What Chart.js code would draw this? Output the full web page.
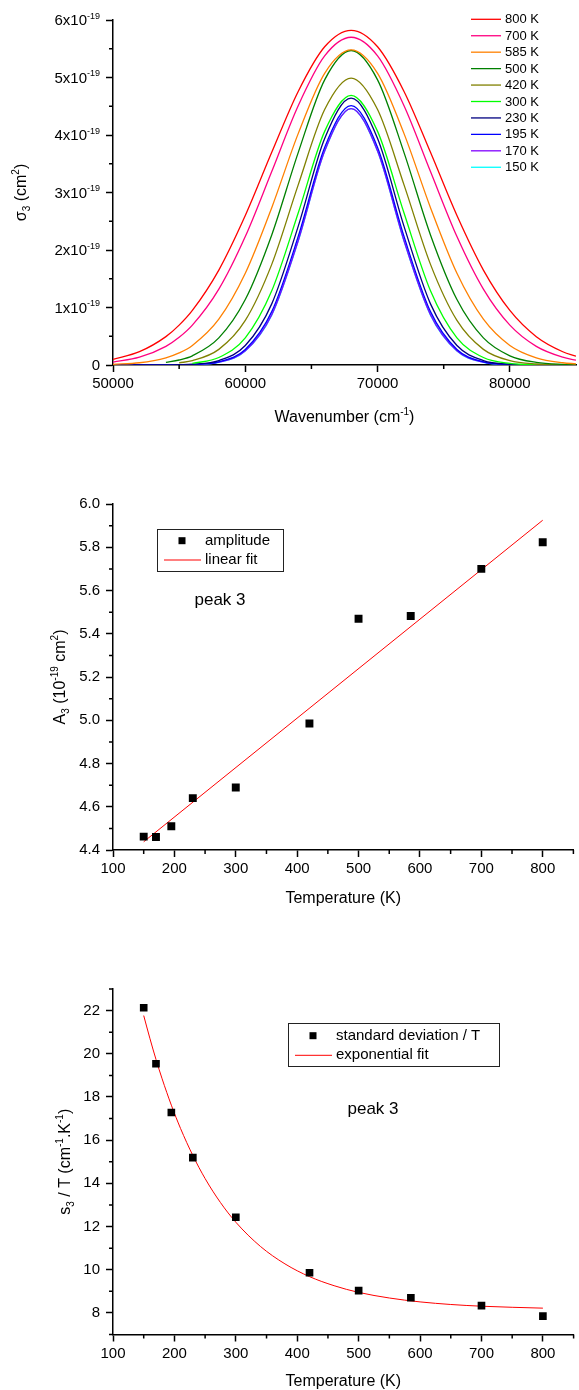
<!DOCTYPE html>
<html><head><meta charset="utf-8">
<script src="https://cdn.jsdelivr.net/npm/chart.js@4.4.1/dist/chart.umd.min.js"></script>
<style>
html,body{margin:0;padding:0;background:#fff;}
body{width:579px;height:1390px;position:relative;overflow:hidden;}
canvas{position:absolute;left:0;}
</style></head><body>
<canvas id="c1" width="579" height="430" style="top:0px;width:579px;height:430px"></canvas>
<canvas id="c2" width="579" height="480" style="top:430px;width:579px;height:480px"></canvas>
<canvas id="c3" width="579" height="480" style="top:910px;width:579px;height:480px"></canvas>
<script>
// ---------- DATA ----------
// Chart 1: sigma_3 (units of 1e-19 cm^2) vs wavenumber (cm^-1)
const WN = [50000,52000,54000,55000,56000,58000,60000,62000,64000,66000,68000,70000,72000,74000,76000,78000,80000,82000,84000,85000];
const TEMP_LABELS = ['800 K','700 K','585 K','500 K','420 K','300 K','230 K','195 K','170 K','150 K'];
const S_800 = [0.098,0.231,0.493,0.693,0.949,1.651,2.599,3.698,4.757,5.534,5.82,5.534,4.757,3.698,2.599,1.651,0.949,0.493,0.231,0.153];
const S_700 = [0.050,0.135,0.324,0.481,0.693,1.319,2.234,3.365,4.510,5.376,5.70,5.376,4.510,3.365,2.234,1.319,0.693,0.324,0.135,0.083];
const S_585 = [0.011,0.039,0.125,0.210,0.340,0.796,1.594,2.736,4.024,5.073,5.48,5.073,4.024,2.736,1.594,0.796,0.340,0.125,0.039,0.021];
const S_500 = [null,null,0.045,0.087,0.160,0.471,1.138,2.262,3.694,4.959,5.47,4.959,3.694,2.262,1.138,0.471,0.160,0.045,0.010,0.005];
const S_420 = [null,null,null,0.037,0.076,0.272,0.775,1.750,3.132,4.442,4.99,4.442,3.132,1.750,0.775,0.272,0.076,0.017,0.003,0.001];
const S_300 = [null,null,null,null,0.027,0.130,0.473,1.291,2.643,4.063,4.69,4.063,2.643,1.291,0.473,0.130,0.027,0.004,0.0005,0.0002];
const S_230 = [0,0.0001,0.0015,0.0046,0.0128,0.0775,0.338,1.063,2.411,3.939,4.64,3.939,2.411,1.063,0.338,0.0775,0.0128,0.0015,0.0001,0];
const S_195 = [0,0,0.0008,0.0027,0.0081,0.0558,0.271,0.928,2.234,3.783,4.51,3.783,2.234,0.928,0.271,0.0558,0.0081,0.0008,0,0];
const S_170 = [0,0,0.0006,0.0021,0.0066,0.0483,0.247,0.875,2.162,3.721,4.46,3.721,2.162,0.875,0.247,0.0483,0.0066,0.0006,0,0];
const S_150 = [0,0,0.0006,0.0020,0.0064,0.0471,0.243,0.867,2.154,3.718,4.46,3.718,2.154,0.867,0.243,0.0471,0.0064,0.0006,0,0];
const X1_TICKS = [50000,60000,70000,80000];
const X1_MINOR = [55000,65000,75000];
const Y1_TICKS = [0,1,2,3,4,5,6];
const Y1_MINOR = [0.5,1.5,2.5,3.5,4.5,5.5];

// Chart 2: amplitude A_3 (1e-19 cm^2) vs temperature
const TEMPS = [150,170,195,230,300,420,500,585,700,800];
const AMPLITUDE = [4.462,4.46,4.51,4.64,4.689,4.985,5.469,5.482,5.70,5.823];
const LINFIT_T = [150,800];
const LINFIT_A = [4.438,5.925];
const X2_TICKS = [100,200,300,400,500,600,700,800];
const X2_MINOR = [150,250,350,450,550,650,750,850];
const Y2_TICKS = [4.4,4.6,4.8,5.0,5.2,5.4,5.6,5.8,6.0];
const Y2_MINOR = [4.5,4.7,4.9,5.1,5.3,5.5,5.7,5.9];

// Chart 3: s_3 / T vs temperature
const SDEV_T = [22.13,19.54,17.28,15.19,12.43,9.86,9.03,8.70,8.34,7.85];
const EXPFIT_T = [150,160,170,180,195,210,230,250,275,300,340,380,420,460,500,550,600,650,700,750,800];
const EXPFIT_S = [21.77,20.72,19.74,18.84,17.62,16.54,15.29,14.22,13.11,12.20,11.08,10.27,9.68,9.26,8.95,8.69,8.51,8.39,8.31,8.26,8.22];
const Y3_TICKS = [8,10,12,14,16,18,20,22];
const Y3_MINOR = [7,9,11,13,15,17,19,21,23];

// ---------- STYLE ----------
const FONT = '"Liberation Sans", Arial, Helvetica, sans-serif';
const COLORS = ['#FF0000','#FF0080','#FF8000','#008000','#808000','#00FF00','#000080','#0000FF','#8000FF','#00FFFF'];
const SERIES1 = [S_800,S_700,S_585,S_500,S_420,S_300,S_230,S_195,S_170,S_150];

Chart.defaults.font.family = FONT;
Chart.defaults.color = '#000';

function drawRich(ctx, segs, x, y, size, align) {
  const small = Math.round(size * 0.62);
  let w = 0;
  for (const [t, m] of segs) { ctx.font = (m ? small : size) + 'px ' + FONT; w += ctx.measureText(t).width; }
  let cx = align === 'center' ? x - w / 2 : (align === 'right' ? x - w : x);
  ctx.textAlign = 'left'; ctx.textBaseline = 'alphabetic';
  for (const [t, m] of segs) {
    ctx.font = (m ? small : size) + 'px ' + FONT;
    const dy = m === 1 ? -size * 0.45 : (m === -1 ? size * 0.25 : 0);
    ctx.fillText(t, cx, y + dy);
    cx += ctx.measureText(t).width;
  }
}
function minorTicks(ctx, scale, vals, horizontal) {
  ctx.save(); ctx.strokeStyle = '#000'; ctx.lineWidth = 1.5; ctx.beginPath();
  for (const v of vals) {
    const p = scale.getPixelForValue(v);
    if (horizontal) { ctx.moveTo(p, scale.top); ctx.lineTo(p, scale.top + 4); }
    else { ctx.moveTo(scale.right, p); ctx.lineTo(scale.right - 4, p); }
  }
  ctx.stroke(); ctx.restore();
}
function setTicks(arr) { return s => { s.ticks = arr.map(v => ({ value: v })); }; }
function axisX(min, max, ticks, labels) {
  return {
    type: 'linear', min, max, position: 'bottom',
    afterBuildTicks: setTicks(ticks),
    afterFit: s => { s.height = 40; },
    grid: { display: true, drawOnChartArea: false, drawTicks: true, tickLength: 7, tickWidth: 1.5, tickColor: '#000' },
    border: { display: true, color: '#000', width: 1.5 },
    ticks: { display: true, padding: 3, font: { size: 15, family: FONT }, color: '#000', maxRotation: 0, autoSkip: false,
             callback: labels ? (v => String(v)) : (() => '') }
  };
}
function axisY(min, max, ticks, labelFn) {
  return {
    type: 'linear', min, max, position: 'left',
    afterBuildTicks: setTicks(ticks),
    afterFit: s => { s.width = 113; },
    grid: { display: true, drawOnChartArea: false, drawTicks: true, tickLength: 7, tickWidth: 1.5, tickColor: '#000' },
    border: { display: true, color: '#000', width: 1.5 },
    ticks: { display: true, padding: 6, font: { size: 15, family: FONT }, color: '#000', autoSkip: false, callback: labelFn }
  };
}
const baseOpts = { responsive: false, animation: false, devicePixelRatio: 1,
  plugins: { legend: { display: false }, tooltip: { enabled: false }, title: { display: false } } };

// ---------- CHART 1 ----------
const ds1 = SERIES1.map((arr, i) => ({
  label: TEMP_LABELS[i],
  data: WN.map((x, j) => ({ x, y: arr[j] })).filter(p => p.y !== null),
  showLine: true, borderColor: COLORS[i], backgroundColor: COLORS[i], borderWidth: 1.3,
  pointRadius: 0, cubicInterpolationMode: 'monotone', fill: false
}));
const decor1 = {
  id: 'decor1',
  afterDraw(chart) {
    const ctx = chart.ctx, xs = chart.scales.x, ys = chart.scales.y;
    minorTicks(ctx, xs, X1_MINOR, true);
    minorTicks(ctx, ys, Y1_MINOR, false);
    ctx.save(); ctx.fillStyle = '#000';
    for (const v of Y1_TICKS) {
      const py = ys.getPixelForValue(v);
      const segs = v === 0 ? [['0', 0]] : [[v + 'x10', 0], ['-19', 1]];
      drawRich(ctx, segs, 100, py + 5.4, 15, 'right');
    }
    drawRich(ctx, [['Wavenumber (cm', 0], ['-1', 1], [')', 0]], (xs.left + xs.right) / 2, 422, 16, 'center');
    ctx.save(); ctx.translate(26, (ys.top + ys.bottom) / 2); ctx.rotate(-Math.PI / 2);
    drawRich(ctx, [['\u03c3', 0], ['3', -1], [' (cm', 0], ['2', 1], [')', 0]], 0, 0, 16, 'center');
    ctx.restore();
    // legend
    ctx.font = '13px ' + FONT; ctx.textAlign = 'left'; ctx.textBaseline = 'middle';
    chart.data.datasets.forEach((d, i) => {
      const y = 19.3 + i * 16.44;
      ctx.strokeStyle = d.borderColor; ctx.lineWidth = 1.3;
      ctx.beginPath(); ctx.moveTo(471, y); ctx.lineTo(501, y); ctx.stroke();
      ctx.fillStyle = '#000'; ctx.fillText(d.label, 505, y + 0.5);
    });
    ctx.restore();
  }
};
new Chart(document.getElementById('c1'), {
  type: 'scatter',
  data: { datasets: ds1 },
  options: Object.assign({}, baseOpts, {
    layout: { padding: { left: 0, right: 3, top: 20, bottom: 25 } },
    scales: { x: axisX(50000, 85000, X1_TICKS, true), y: axisY(0, 6, Y1_TICKS, () => '') }
  }),
  plugins: [decor1]
});

// ---------- shared legend/title drawing for charts 2 & 3 ----------
function makeDecor(id, cfg) {
  return {
    id,
    afterDraw(chart) {
      const ctx = chart.ctx, xs = chart.scales.x, ys = chart.scales.y;
      minorTicks(ctx, xs, cfg.xMinor, true);
      minorTicks(ctx, ys, cfg.yMinor, false);
      ctx.save(); ctx.fillStyle = '#000';
      drawRich(ctx, cfg.xTitle, (xs.left + xs.right) / 2, cfg.xTitleY, 16, 'center');
      ctx.save(); ctx.translate(cfg.yTitleX, (ys.top + ys.bottom) / 2); ctx.rotate(-Math.PI / 2);
      drawRich(ctx, cfg.yTitle, 0, 0, 16, 'center');
      ctx.restore();
      // legend box
      const L = cfg.legend;
      ctx.strokeStyle = '#222'; ctx.lineWidth = 1;
      ctx.strokeRect(L.x0 + 0.5, L.y0 + 0.5, L.x1 - L.x0, L.y1 - L.y0);
      const pts = chart.data.datasets[0], fit = chart.data.datasets[1];
      ctx.fillStyle = '#000';
      ctx.fillRect(L.markX - 3.5, L.row1 - 3.5, 7, 7);
      ctx.strokeStyle = fit.borderColor; ctx.lineWidth = 1;
      ctx.beginPath(); ctx.moveTo(L.lineX0, L.row2); ctx.lineTo(L.lineX1, L.row2); ctx.stroke();
      ctx.font = '15px ' + FONT; ctx.textAlign = 'left'; ctx.textBaseline = 'middle'; ctx.fillStyle = '#000';
      ctx.fillText(pts.label, L.textX, L.row1);
      ctx.fillText(fit.label, L.textX, L.row2);
      ctx.font = '17px ' + FONT; ctx.textAlign = 'center';
      ctx.fillText('peak 3', cfg.peak[0], cfg.peak[1]);
      ctx.restore();
    }
  };
}

// ---------- CHART 2 ----------
new Chart(document.getElementById('c2'), {
  type: 'scatter',
  data: { datasets: [
    { label: 'amplitude', data: TEMPS.map((t, i) => ({ x: t, y: AMPLITUDE[i] })),
      pointStyle: 'rect', pointRadius: 5.6, backgroundColor: '#000', borderColor: '#000', borderWidth: 0 },
    { label: 'linear fit', data: LINFIT_T.map((t, i) => ({ x: t, y: LINFIT_A[i] })),
      showLine: true, pointRadius: 0, borderColor: '#FF0000', borderWidth: 1 }
  ] },
  options: Object.assign({}, baseOpts, {
    layout: { padding: { left: 0, right: 3, top: 74, bottom: 20 } },
    scales: { x: axisX(100, 850, X2_TICKS, true), y: axisY(4.4, 6.0, Y2_TICKS, v => v.toFixed(1)) }
  }),
  plugins: [makeDecor('decor2', {
    xMinor: X2_MINOR, yMinor: Y2_MINOR,
    xTitle: [['Temperature (K)', 0]], xTitleY: 472.5,
    yTitle: [['A', 0], ['3', -1], [' (10', 0], ['-19', 1], [' cm', 0], ['2', 1], [')', 0]], yTitleX: 65,
    legend: { x0: 157, y0: 99, x1: 283, y1: 141, markX: 182, row1: 110.7, row2: 130, lineX0: 164, lineX1: 201, textX: 205 },
    peak: [220, 170]
  })]
});

// ---------- CHART 3 ----------
new Chart(document.getElementById('c3'), {
  type: 'scatter',
  data: { datasets: [
    { label: 'standard deviation / T', data: TEMPS.map((t, i) => ({ x: t, y: SDEV_T[i] })),
      pointStyle: 'rect', pointRadius: 5.4, backgroundColor: '#000', borderColor: '#000', borderWidth: 0 },
    { label: 'exponential fit', data: EXPFIT_T.map((t, i) => ({ x: t, y: EXPFIT_S[i] })),
      showLine: true, pointRadius: 0, borderColor: '#FF0000', borderWidth: 1, cubicInterpolationMode: 'monotone' }
  ] },
  options: Object.assign({}, baseOpts, {
    layout: { padding: { left: 0, right: 3, top: 79, bottom: 15.5 } },
    scales: { x: axisX(100, 850, X2_TICKS, true), y: axisY(7, 23, Y3_TICKS, v => String(v)) }
  }),
  plugins: [makeDecor('decor3', {
    xMinor: X2_MINOR, yMinor: Y3_MINOR,
    xTitle: [['Temperature (K)', 0]], xTitleY: 476,
    yTitle: [['s', 0], ['3', -1], [' / T (cm', 0], ['-1', 1], ['.K', 0], ['-1', 1], [')', 0]], yTitleX: 70,
    legend: { x0: 288, y0: 113, x1: 499, y1: 156, markX: 313, row1: 125.7, row2: 145.3, lineX0: 295, lineX1: 332, textX: 336 },
    peak: [373, 199]
  })]
});
</script>
</body></html>
